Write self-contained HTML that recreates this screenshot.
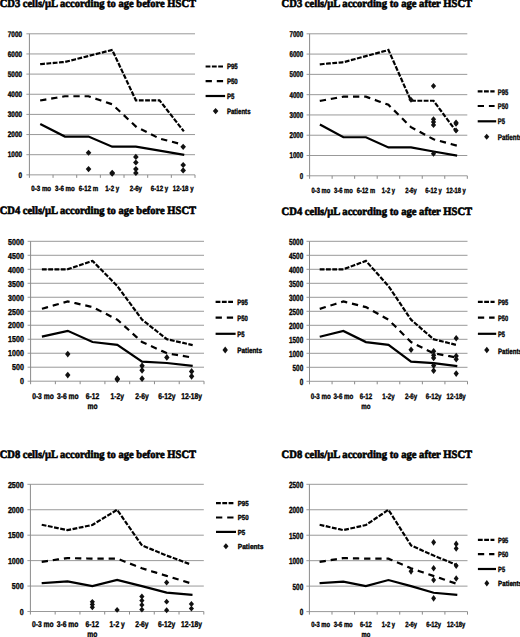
<!DOCTYPE html>
<html><head><meta charset="utf-8"><style>
html,body{margin:0;padding:0;background:#fff;width:520px;height:637px;overflow:hidden}
svg{display:block;text-rendering:geometricPrecision}
.t{font-family:"Liberation Serif", serif;font-weight:bold;font-size:11.2px;fill:#000;stroke:#000;stroke-width:0.6px}
.yl,.xl,.lg{font-weight:bold;stroke:#000;stroke-width:0.35px}
.yl{font-family:"Liberation Sans", sans-serif;font-size:8.1px;fill:#000;text-anchor:end}
.xl{font-family:"Liberation Sans", sans-serif;font-size:8.1px;fill:#000;text-anchor:middle}
.lg{font-family:"Liberation Sans", sans-serif;font-size:8.1px;fill:#000}
.g{stroke:#999;stroke-width:1}
.a{stroke:#8a8a8a;stroke-width:1}
.s{fill:none;stroke:#000;stroke-width:2.2;stroke-linejoin:miter;stroke-linecap:square}
.p95{stroke-dasharray:2.6 3.7}
.p50{stroke-dasharray:4.1 7.1}
.d{fill:#111}
</style></head><body>
<svg width="520" height="637" viewBox="0 0 520 637">
<g><rect x="-10" y="-10" width="540" height="657" fill="#fff"/>
<g><text class="t" x="-0.3" y="7.3" transform="translate(-0.3 0) scale(0.94 1) translate(0.3 0)">CD3 cells/µL according to age before HSCT</text><line class="g" x1="26.4" y1="174.85" x2="195" y2="174.85"/><text class="yl" x="22" y="177.6" style="font-size:8.1px" transform="matrix(0.79 0 0 1 4.62 0)">0</text><line class="g" x1="26.4" y1="154.7" x2="195" y2="154.7"/><text class="yl" x="22" y="157.45" style="font-size:8.1px" transform="matrix(0.79 0 0 1 4.62 0)">1000</text><line class="g" x1="26.4" y1="134.55" x2="195" y2="134.55"/><text class="yl" x="22" y="137.3" style="font-size:8.1px" transform="matrix(0.79 0 0 1 4.62 0)">2000</text><line class="g" x1="26.4" y1="114.4" x2="195" y2="114.4"/><text class="yl" x="22" y="117.15" style="font-size:8.1px" transform="matrix(0.79 0 0 1 4.62 0)">3000</text><line class="g" x1="26.4" y1="94.25" x2="195" y2="94.25"/><text class="yl" x="22" y="97" style="font-size:8.1px" transform="matrix(0.79 0 0 1 4.62 0)">4000</text><line class="g" x1="26.4" y1="74.1" x2="195" y2="74.1"/><text class="yl" x="22" y="76.85" style="font-size:8.1px" transform="matrix(0.79 0 0 1 4.62 0)">5000</text><line class="g" x1="26.4" y1="53.95" x2="195" y2="53.95"/><text class="yl" x="22" y="56.7" style="font-size:8.1px" transform="matrix(0.79 0 0 1 4.62 0)">6000</text><line class="g" x1="26.4" y1="33.8" x2="195" y2="33.8"/><text class="yl" x="22" y="36.55" style="font-size:8.1px" transform="matrix(0.79 0 0 1 4.62 0)">7000</text><line class="a" x1="29.4" y1="33.8" x2="29.4" y2="177.85"/><line class="a" x1="53.06" y1="174.85" x2="53.06" y2="177.85"/><line class="a" x1="76.71" y1="174.85" x2="76.71" y2="177.85"/><line class="a" x1="100.37" y1="174.85" x2="100.37" y2="177.85"/><line class="a" x1="124.03" y1="174.85" x2="124.03" y2="177.85"/><line class="a" x1="147.69" y1="174.85" x2="147.69" y2="177.85"/><line class="a" x1="171.34" y1="174.85" x2="171.34" y2="177.85"/><line class="a" x1="195" y1="174.85" x2="195" y2="177.85"/><text class="xl" x="41.23" y="191.46" style="font-size:7.6px" transform="matrix(0.805 0 0 1 8.04 0)">0-3 mo</text><text class="xl" x="64.89" y="191.46" style="font-size:7.6px" transform="matrix(0.805 0 0 1 12.65 0)">3-6 mo</text><text class="xl" x="88.54" y="191.46" style="font-size:7.6px" transform="matrix(0.805 0 0 1 17.27 0)">6-12 m</text><text class="xl" x="112.2" y="191.46" style="font-size:7.6px" transform="matrix(0.805 0 0 1 21.88 0)">1-2 y</text><text class="xl" x="135.86" y="191.46" style="font-size:7.6px" transform="matrix(0.805 0 0 1 26.49 0)">2-6y</text><text class="xl" x="159.51" y="191.46" style="font-size:7.6px" transform="matrix(0.805 0 0 1 31.11 0)">6-12 y</text><text class="xl" x="183.17" y="191.46" style="font-size:7.6px" transform="matrix(0.805 0 0 1 35.72 0)">12-18 y</text><polyline class="s p95" points="41.23,64.02 64.89,62.01 88.54,55.96 112.2,49.92 135.86,100.29 159.51,100.29 183.17,130.52"/><polyline class="s p50" points="41.23,100.29 64.89,96.27 88.54,96.27 112.2,104.32 135.86,126.49 159.51,138.58 183.17,144.62"/><polyline class="s p5" points="41.23,124.47 64.89,136.56 88.54,136.56 112.2,146.64 135.86,146.64 159.51,150.67 183.17,154.7"/><path class="d" d="M88.54 149.63L91.34 152.69L88.54 155.74L85.74 152.69Z"/><path class="d" d="M88.54 166.06L91.34 169.11L88.54 172.16L85.74 169.11Z"/><path class="d" d="M112.2 169.68L115 172.73L112.2 175.78L109.4 172.73Z"/><path class="d" d="M112.2 170.59L115 173.64L112.2 176.69L109.4 173.64Z"/><path class="d" d="M135.86 153.87L138.66 156.92L135.86 159.97L133.06 156.92Z"/><path class="d" d="M135.86 159.45L138.66 162.5L135.86 165.55L133.06 162.5Z"/><path class="d" d="M135.86 166.06L138.66 169.11L135.86 172.16L133.06 169.11Z"/><path class="d" d="M135.86 169.95L138.66 173L135.86 176.05L133.06 173Z"/><path class="d" d="M183.17 143.79L185.97 146.84L183.17 149.89L180.37 146.84Z"/><path class="d" d="M183.17 161.93L185.97 164.98L183.17 168.03L180.37 164.98Z"/><path class="d" d="M183.17 167.37L185.97 170.42L183.17 173.47L180.37 170.42Z"/><line class="s p95" x1="206.7" y1="66.5" x2="222.4" y2="66.5"/><text class="lg" x="226.9" y="69.3" style="font-size:7.7px" transform="matrix(0.79 0 0 1 47.65 0)">P95</text><line class="s p50" x1="206.7" y1="81.2" x2="222.4" y2="81.2"/><text class="lg" x="226.9" y="84" style="font-size:7.7px" transform="matrix(0.79 0 0 1 47.65 0)">P50</text><line class="s p5" x1="206.7" y1="96" x2="224" y2="96"/><text class="lg" x="226.9" y="98.8" style="font-size:7.7px" transform="matrix(0.79 0 0 1 47.65 0)">P5</text><path class="d" d="M215.6 108.05L218.4 111.1L215.6 114.15L212.8 111.1Z"/><text class="lg" x="226.9" y="113.9" style="font-size:7.7px" transform="matrix(0.79 0 0 1 47.65 0)">Patients</text></g><g><text class="t" x="281.6" y="7.2" transform="translate(281.6 0) scale(0.946 1) translate(-281.6 0)">CD3 cells/µL according to age after HSCT</text><line class="g" x1="306.6" y1="175.8" x2="467.3" y2="175.8"/><text class="yl" x="303.2" y="178.75" style="font-size:8.5px" transform="matrix(0.726 0 0 1 83.08 0)">0</text><line class="g" x1="306.6" y1="155.51" x2="467.3" y2="155.51"/><text class="yl" x="303.2" y="158.46" style="font-size:8.5px" transform="matrix(0.726 0 0 1 83.08 0)">1000</text><line class="g" x1="306.6" y1="135.23" x2="467.3" y2="135.23"/><text class="yl" x="303.2" y="138.18" style="font-size:8.5px" transform="matrix(0.726 0 0 1 83.08 0)">2000</text><line class="g" x1="306.6" y1="114.94" x2="467.3" y2="114.94"/><text class="yl" x="303.2" y="117.89" style="font-size:8.5px" transform="matrix(0.726 0 0 1 83.08 0)">3000</text><line class="g" x1="306.6" y1="94.66" x2="467.3" y2="94.66"/><text class="yl" x="303.2" y="97.61" style="font-size:8.5px" transform="matrix(0.726 0 0 1 83.08 0)">4000</text><line class="g" x1="306.6" y1="74.37" x2="467.3" y2="74.37"/><text class="yl" x="303.2" y="77.32" style="font-size:8.5px" transform="matrix(0.726 0 0 1 83.08 0)">5000</text><line class="g" x1="306.6" y1="54.09" x2="467.3" y2="54.09"/><text class="yl" x="303.2" y="57.04" style="font-size:8.5px" transform="matrix(0.726 0 0 1 83.08 0)">6000</text><line class="g" x1="306.6" y1="33.8" x2="467.3" y2="33.8"/><text class="yl" x="303.2" y="36.75" style="font-size:8.5px" transform="matrix(0.726 0 0 1 83.08 0)">7000</text><line class="a" x1="309.6" y1="33.8" x2="309.6" y2="178.8"/><line class="a" x1="332.13" y1="175.8" x2="332.13" y2="178.8"/><line class="a" x1="354.66" y1="175.8" x2="354.66" y2="178.8"/><line class="a" x1="377.19" y1="175.8" x2="377.19" y2="178.8"/><line class="a" x1="399.71" y1="175.8" x2="399.71" y2="178.8"/><line class="a" x1="422.24" y1="175.8" x2="422.24" y2="178.8"/><line class="a" x1="444.77" y1="175.8" x2="444.77" y2="178.8"/><line class="a" x1="467.3" y1="175.8" x2="467.3" y2="178.8"/><text class="xl" x="320.86" y="192.96" style="font-size:7.6px" transform="matrix(0.76 0 0 1 77.01 0)">0-3 mo</text><text class="xl" x="343.39" y="192.96" style="font-size:7.6px" transform="matrix(0.76 0 0 1 82.41 0)">3-6 mo</text><text class="xl" x="365.92" y="192.96" style="font-size:7.6px" transform="matrix(0.76 0 0 1 87.82 0)">6-12 m</text><text class="xl" x="388.45" y="192.96" style="font-size:7.6px" transform="matrix(0.76 0 0 1 93.23 0)">1-2 y</text><text class="xl" x="410.98" y="192.96" style="font-size:7.6px" transform="matrix(0.76 0 0 1 98.63 0)">2-6y</text><text class="xl" x="433.51" y="192.96" style="font-size:7.6px" transform="matrix(0.76 0 0 1 104.04 0)">6-12 y</text><text class="xl" x="456.04" y="192.96" style="font-size:7.6px" transform="matrix(0.76 0 0 1 109.45 0)">12-18 y</text><polyline class="s p95" points="320.86,64.23 343.39,62.2 365.92,56.11 388.45,50.03 410.98,100.74 433.51,100.74 456.04,131.17"/><polyline class="s p50" points="320.86,100.74 343.39,96.69 365.92,96.69 388.45,104.8 410.98,127.11 433.51,139.29 456.04,145.37"/><polyline class="s p5" points="320.86,125.09 343.39,137.26 365.92,137.26 388.45,147.4 410.98,147.4 433.51,151.46 456.04,155.51"/><path class="d" d="M410.98 96.73L413.58 99.73L410.98 102.73L408.38 99.73Z"/><path class="d" d="M433.51 82.93L436.11 85.93L433.51 88.93L430.91 85.93Z"/><path class="d" d="M433.51 116.2L436.11 119.2L433.51 122.2L430.91 119.2Z"/><path class="d" d="M433.51 119.04L436.11 122.04L433.51 125.04L430.91 122.04Z"/><path class="d" d="M433.51 121.88L436.11 124.88L433.51 127.88L430.91 124.88Z"/><path class="d" d="M433.51 150.69L436.11 153.69L433.51 156.69L430.91 153.69Z"/><path class="d" d="M456.04 119.45L458.64 122.45L456.04 125.45L453.44 122.45Z"/><path class="d" d="M456.04 120.87L458.64 123.87L456.04 126.87L453.44 123.87Z"/><path class="d" d="M456.04 127.56L458.64 130.56L456.04 133.56L453.44 130.56Z"/><line class="s p95" x1="478.8" y1="91.4" x2="493.5" y2="91.4"/><text class="lg" x="497.8" y="94.5" style="font-size:8.1px" transform="matrix(0.72 0 0 1 139.38 0)">P95</text><line class="s p50" x1="478.8" y1="106" x2="493.5" y2="106"/><text class="lg" x="497.8" y="109.1" style="font-size:8.1px" transform="matrix(0.72 0 0 1 139.38 0)">P50</text><line class="s p5" x1="478.8" y1="121.3" x2="495.1" y2="121.3"/><text class="lg" x="497.8" y="124.4" style="font-size:8.1px" transform="matrix(0.72 0 0 1 139.38 0)">P5</text><path class="d" d="M486.7 133.7L489.3 136.7L486.7 139.7L484.1 136.7Z"/><text class="lg" x="497.8" y="139.8" style="font-size:8.1px" transform="matrix(0.7776000000000001 0 0 1 110.71 0)">Patients</text></g><g><text class="t" x="-0.3" y="214.4" transform="translate(-0.3 0) scale(0.94 1) translate(0.3 0)">CD4 cells/µL according to age before HSCT</text><line class="g" x1="27.6" y1="381.2" x2="204" y2="381.2"/><text class="yl" x="23.9" y="384.45" style="font-size:8.65px" transform="matrix(0.823 0 0 1 4.23 0)">0</text><line class="g" x1="27.6" y1="367.21" x2="204" y2="367.21"/><text class="yl" x="23.9" y="370.46" style="font-size:8.65px" transform="matrix(0.823 0 0 1 4.23 0)">500</text><line class="g" x1="27.6" y1="353.22" x2="204" y2="353.22"/><text class="yl" x="23.9" y="356.47" style="font-size:8.65px" transform="matrix(0.823 0 0 1 4.23 0)">1000</text><line class="g" x1="27.6" y1="339.23" x2="204" y2="339.23"/><text class="yl" x="23.9" y="342.48" style="font-size:8.65px" transform="matrix(0.823 0 0 1 4.23 0)">1500</text><line class="g" x1="27.6" y1="325.24" x2="204" y2="325.24"/><text class="yl" x="23.9" y="328.49" style="font-size:8.65px" transform="matrix(0.823 0 0 1 4.23 0)">2000</text><line class="g" x1="27.6" y1="311.25" x2="204" y2="311.25"/><text class="yl" x="23.9" y="314.5" style="font-size:8.65px" transform="matrix(0.823 0 0 1 4.23 0)">2500</text><line class="g" x1="27.6" y1="297.26" x2="204" y2="297.26"/><text class="yl" x="23.9" y="300.51" style="font-size:8.65px" transform="matrix(0.823 0 0 1 4.23 0)">3000</text><line class="g" x1="27.6" y1="283.27" x2="204" y2="283.27"/><text class="yl" x="23.9" y="286.52" style="font-size:8.65px" transform="matrix(0.823 0 0 1 4.23 0)">3500</text><line class="g" x1="27.6" y1="269.28" x2="204" y2="269.28"/><text class="yl" x="23.9" y="272.53" style="font-size:8.65px" transform="matrix(0.823 0 0 1 4.23 0)">4000</text><line class="g" x1="27.6" y1="255.29" x2="204" y2="255.29"/><text class="yl" x="23.9" y="258.54" style="font-size:8.65px" transform="matrix(0.823 0 0 1 4.23 0)">4500</text><line class="g" x1="27.6" y1="241.3" x2="204" y2="241.3"/><text class="yl" x="23.9" y="244.55" style="font-size:8.65px" transform="matrix(0.823 0 0 1 4.23 0)">5000</text><line class="a" x1="30.6" y1="241.3" x2="30.6" y2="384.2"/><line class="a" x1="55.37" y1="381.2" x2="55.37" y2="384.2"/><line class="a" x1="80.14" y1="381.2" x2="80.14" y2="384.2"/><line class="a" x1="104.91" y1="381.2" x2="104.91" y2="384.2"/><line class="a" x1="129.69" y1="381.2" x2="129.69" y2="384.2"/><line class="a" x1="154.46" y1="381.2" x2="154.46" y2="384.2"/><line class="a" x1="179.23" y1="381.2" x2="179.23" y2="384.2"/><line class="a" x1="204" y1="381.2" x2="204" y2="384.2"/><text class="xl" x="42.99" y="399.36" style="font-size:8.35px" transform="matrix(0.805 0 0 1 8.38 0)">0-3 mo</text><text class="xl" x="67.76" y="399.36" style="font-size:8.35px" transform="matrix(0.805 0 0 1 13.21 0)">3-6 mo</text><text class="xl" x="92.53" y="399.36" style="font-size:8.35px" transform="matrix(0.805 0 0 1 18.04 0)">6-12</text><text class="xl" x="92.53" y="409.06" style="font-size:8.35px" transform="matrix(0.805 0 0 1 18.04 0)">mo</text><text class="xl" x="117.3" y="399.36" style="font-size:8.35px" transform="matrix(0.805 0 0 1 22.87 0)">1-2y</text><text class="xl" x="142.07" y="399.36" style="font-size:8.35px" transform="matrix(0.805 0 0 1 27.7 0)">2-6y</text><text class="xl" x="166.84" y="399.36" style="font-size:8.35px" transform="matrix(0.805 0 0 1 32.53 0)">6-12y</text><text class="xl" x="191.61" y="399.36" style="font-size:8.35px" transform="matrix(0.805 0 0 1 37.36 0)">12-18y</text><polyline class="s p95" points="42.99,269.28 67.76,269.28 92.53,260.89 117.3,286.07 142.07,319.64 166.84,339.23 191.61,344.83"/><polyline class="s p50" points="42.99,308.45 67.76,301.46 92.53,307.05 117.3,319.64 142.07,342.03 166.84,353.22 191.61,357.42"/><polyline class="s p5" points="42.99,336.43 67.76,330.84 92.53,342.03 117.3,344.83 142.07,361.61 166.84,363.01 191.61,365.81"/><path class="d" d="M67.76 350.66L70.46 354.06L67.76 357.46L65.06 354.06Z"/><path class="d" d="M67.76 371.64L70.46 375.04L67.76 378.44L65.06 375.04Z"/><path class="d" d="M117.3 375.28L120 378.68L117.3 382.08L114.6 378.68Z"/><path class="d" d="M117.3 376.12L120 379.52L117.3 382.92L114.6 379.52Z"/><path class="d" d="M142.07 362.41L144.77 365.81L142.07 369.21L139.37 365.81Z"/><path class="d" d="M142.07 366.89L144.77 370.29L142.07 373.69L139.37 370.29Z"/><path class="d" d="M142.07 375.28L144.77 378.68L142.07 382.08L139.37 378.68Z"/><path class="d" d="M166.84 354.02L169.54 357.42L166.84 360.82L164.14 357.42Z"/><path class="d" d="M191.61 368.01L194.31 371.41L191.61 374.81L188.91 371.41Z"/><path class="d" d="M191.61 372.9L194.31 376.3L191.61 379.7L188.91 376.3Z"/><line class="s p95" x1="216.7" y1="301.9" x2="232.9" y2="301.9"/><text class="lg" x="237.2" y="305.3" style="font-size:7.7px" transform="matrix(0.77 0 0 1 54.56 0)">P95</text><line class="s p50" x1="216.7" y1="317.7" x2="232.9" y2="317.7"/><text class="lg" x="237.2" y="321.1" style="font-size:7.7px" transform="matrix(0.77 0 0 1 54.56 0)">P50</text><line class="s p5" x1="216.7" y1="333.8" x2="234.5" y2="333.8"/><text class="lg" x="237.2" y="337.2" style="font-size:7.7px" transform="matrix(0.77 0 0 1 54.56 0)">P5</text><path class="d" d="M225.2 346.6L227.9 350L225.2 353.4L222.5 350Z"/><text class="lg" x="237.2" y="353.4" style="font-size:7.7px" transform="matrix(0.8316000000000001 0 0 1 39.94 0)">Patients</text></g><g><text class="t" x="281.6" y="214.5" transform="translate(281.6 0) scale(0.946 1) translate(-281.6 0)">CD4 cells/µL according to age after HSCT</text><line class="g" x1="306.5" y1="381.3" x2="467.5" y2="381.3"/><text class="yl" x="303.2" y="384.74" style="font-size:8.9px" transform="matrix(0.719 0 0 1 85.2 0)">0</text><line class="g" x1="306.5" y1="367.3" x2="467.5" y2="367.3"/><text class="yl" x="303.2" y="370.74" style="font-size:8.9px" transform="matrix(0.719 0 0 1 85.2 0)">500</text><line class="g" x1="306.5" y1="353.3" x2="467.5" y2="353.3"/><text class="yl" x="303.2" y="356.74" style="font-size:8.9px" transform="matrix(0.719 0 0 1 85.2 0)">1000</text><line class="g" x1="306.5" y1="339.3" x2="467.5" y2="339.3"/><text class="yl" x="303.2" y="342.74" style="font-size:8.9px" transform="matrix(0.719 0 0 1 85.2 0)">1500</text><line class="g" x1="306.5" y1="325.3" x2="467.5" y2="325.3"/><text class="yl" x="303.2" y="328.74" style="font-size:8.9px" transform="matrix(0.719 0 0 1 85.2 0)">2000</text><line class="g" x1="306.5" y1="311.3" x2="467.5" y2="311.3"/><text class="yl" x="303.2" y="314.74" style="font-size:8.9px" transform="matrix(0.719 0 0 1 85.2 0)">2500</text><line class="g" x1="306.5" y1="297.3" x2="467.5" y2="297.3"/><text class="yl" x="303.2" y="300.74" style="font-size:8.9px" transform="matrix(0.719 0 0 1 85.2 0)">3000</text><line class="g" x1="306.5" y1="283.3" x2="467.5" y2="283.3"/><text class="yl" x="303.2" y="286.74" style="font-size:8.9px" transform="matrix(0.719 0 0 1 85.2 0)">3500</text><line class="g" x1="306.5" y1="269.3" x2="467.5" y2="269.3"/><text class="yl" x="303.2" y="272.74" style="font-size:8.9px" transform="matrix(0.719 0 0 1 85.2 0)">4000</text><line class="g" x1="306.5" y1="255.3" x2="467.5" y2="255.3"/><text class="yl" x="303.2" y="258.74" style="font-size:8.9px" transform="matrix(0.719 0 0 1 85.2 0)">4500</text><line class="g" x1="306.5" y1="241.3" x2="467.5" y2="241.3"/><text class="yl" x="303.2" y="244.74" style="font-size:8.9px" transform="matrix(0.719 0 0 1 85.2 0)">5000</text><line class="a" x1="309.5" y1="241.3" x2="309.5" y2="384.3"/><line class="a" x1="332.07" y1="381.3" x2="332.07" y2="384.3"/><line class="a" x1="354.64" y1="381.3" x2="354.64" y2="384.3"/><line class="a" x1="377.21" y1="381.3" x2="377.21" y2="384.3"/><line class="a" x1="399.79" y1="381.3" x2="399.79" y2="384.3"/><line class="a" x1="422.36" y1="381.3" x2="422.36" y2="384.3"/><line class="a" x1="444.93" y1="381.3" x2="444.93" y2="384.3"/><line class="a" x1="467.5" y1="381.3" x2="467.5" y2="384.3"/><text class="xl" x="320.79" y="399.48" style="font-size:7.9px" transform="matrix(0.78 0 0 1 70.57 0)">0-3 mo</text><text class="xl" x="343.36" y="399.48" style="font-size:7.9px" transform="matrix(0.78 0 0 1 75.54 0)">3-6 mo</text><text class="xl" x="365.93" y="399.48" style="font-size:7.9px" transform="matrix(0.78 0 0 1 80.5 0)">6-12</text><text class="xl" x="365.93" y="408.88" style="font-size:7.9px" transform="matrix(0.78 0 0 1 80.5 0)">mo</text><text class="xl" x="388.5" y="399.48" style="font-size:7.9px" transform="matrix(0.78 0 0 1 85.47 0)">1-2y</text><text class="xl" x="411.07" y="399.48" style="font-size:7.9px" transform="matrix(0.78 0 0 1 90.44 0)">2-6y</text><text class="xl" x="433.64" y="399.48" style="font-size:7.9px" transform="matrix(0.78 0 0 1 95.4 0)">6-12y</text><text class="xl" x="456.21" y="399.48" style="font-size:7.9px" transform="matrix(0.78 0 0 1 100.37 0)">12-18y</text><polyline class="s p95" points="320.79,269.3 343.36,269.3 365.93,260.9 388.5,286.1 411.07,319.7 433.64,339.3 456.21,344.9"/><polyline class="s p50" points="320.79,308.5 343.36,301.5 365.93,307.1 388.5,319.7 411.07,342.1 433.64,353.3 456.21,357.5"/><polyline class="s p5" points="320.79,336.5 343.36,330.9 365.93,342.1 388.5,344.9 411.07,361.7 433.64,363.1 456.21,365.9"/><path class="d" d="M411.07 346.5L413.67 349.8L411.07 353.1L408.47 349.8Z"/><path class="d" d="M433.64 347.9L436.24 351.2L433.64 354.5L431.04 351.2Z"/><path class="d" d="M433.64 351.96L436.24 355.26L433.64 358.56L431.04 355.26Z"/><path class="d" d="M433.64 354.62L436.24 357.92L433.64 361.22L431.04 357.92Z"/><path class="d" d="M433.64 362.32L436.24 365.62L433.64 368.92L431.04 365.62Z"/><path class="d" d="M433.64 367.36L436.24 370.66L433.64 373.96L431.04 370.66Z"/><path class="d" d="M456.21 334.88L458.81 338.18L456.21 341.48L453.61 338.18Z"/><path class="d" d="M456.21 352.66L458.81 355.96L456.21 359.26L453.61 355.96Z"/><path class="d" d="M456.21 355.88L458.81 359.18L456.21 362.48L453.61 359.18Z"/><path class="d" d="M456.21 370.3L458.81 373.6L456.21 376.9L453.61 373.6Z"/><line class="s p95" x1="479" y1="301.9" x2="493.5" y2="301.9"/><text class="lg" x="498" y="305.4" style="font-size:7.7px" transform="matrix(0.74 0 0 1 129.48 0)">P95</text><line class="s p50" x1="479" y1="317.7" x2="493.5" y2="317.7"/><text class="lg" x="498" y="321.2" style="font-size:7.7px" transform="matrix(0.74 0 0 1 129.48 0)">P50</text><line class="s p5" x1="479" y1="333.8" x2="495.1" y2="333.8"/><text class="lg" x="498" y="337.3" style="font-size:7.7px" transform="matrix(0.74 0 0 1 129.48 0)">P5</text><path class="d" d="M486.8 346.7L489.4 350L486.8 353.3L484.2 350Z"/><text class="lg" x="498" y="353.5" style="font-size:7.7px" transform="matrix(0.7992 0 0 1 100 0)">Patients</text></g><g><text class="t" x="-0.3" y="458.3" transform="translate(-0.3 0) scale(0.94 1) translate(0.3 0)">CD8 cells/µL according to age before HSCT</text><line class="g" x1="27.4" y1="611.5" x2="203.8" y2="611.5"/><text class="yl" x="23.7" y="614.75" style="font-size:8.65px" transform="matrix(0.823 0 0 1 4.19 0)">0</text><line class="g" x1="27.4" y1="586.06" x2="203.8" y2="586.06"/><text class="yl" x="23.7" y="589.31" style="font-size:8.65px" transform="matrix(0.823 0 0 1 4.19 0)">500</text><line class="g" x1="27.4" y1="560.62" x2="203.8" y2="560.62"/><text class="yl" x="23.7" y="563.87" style="font-size:8.65px" transform="matrix(0.823 0 0 1 4.19 0)">1000</text><line class="g" x1="27.4" y1="535.18" x2="203.8" y2="535.18"/><text class="yl" x="23.7" y="538.43" style="font-size:8.65px" transform="matrix(0.823 0 0 1 4.19 0)">1500</text><line class="g" x1="27.4" y1="509.74" x2="203.8" y2="509.74"/><text class="yl" x="23.7" y="512.99" style="font-size:8.65px" transform="matrix(0.823 0 0 1 4.19 0)">2000</text><line class="g" x1="27.4" y1="484.3" x2="203.8" y2="484.3"/><text class="yl" x="23.7" y="487.55" style="font-size:8.65px" transform="matrix(0.823 0 0 1 4.19 0)">2500</text><line class="a" x1="30.4" y1="484.3" x2="30.4" y2="614.5"/><line class="a" x1="55.17" y1="611.5" x2="55.17" y2="614.5"/><line class="a" x1="79.94" y1="611.5" x2="79.94" y2="614.5"/><line class="a" x1="104.71" y1="611.5" x2="104.71" y2="614.5"/><line class="a" x1="129.49" y1="611.5" x2="129.49" y2="614.5"/><line class="a" x1="154.26" y1="611.5" x2="154.26" y2="614.5"/><line class="a" x1="179.03" y1="611.5" x2="179.03" y2="614.5"/><line class="a" x1="203.8" y1="611.5" x2="203.8" y2="614.5"/><text class="xl" x="42.79" y="627.46" style="font-size:8.35px" transform="matrix(0.805 0 0 1 8.34 0)">0-3 mo</text><text class="xl" x="67.56" y="627.46" style="font-size:8.35px" transform="matrix(0.805 0 0 1 13.17 0)">3-6 mo</text><text class="xl" x="92.33" y="627.46" style="font-size:8.35px" transform="matrix(0.805 0 0 1 18 0)">6-12</text><text class="xl" x="92.33" y="636.86" style="font-size:8.35px" transform="matrix(0.805 0 0 1 18 0)">mo</text><text class="xl" x="117.1" y="627.46" style="font-size:8.35px" transform="matrix(0.805 0 0 1 22.83 0)">1-2 y</text><text class="xl" x="141.87" y="627.46" style="font-size:8.35px" transform="matrix(0.805 0 0 1 27.66 0)">2-6y</text><text class="xl" x="166.64" y="627.46" style="font-size:8.35px" transform="matrix(0.805 0 0 1 32.5 0)">6-12y</text><text class="xl" x="191.41" y="627.46" style="font-size:8.35px" transform="matrix(0.805 0 0 1 37.33 0)">12-18y</text><polyline class="s p95" points="42.79,525 67.56,530.09 92.33,525 117.1,509.74 141.87,545.36 166.64,555.53 191.41,564.69"/><polyline class="s p50" points="42.79,561.64 67.56,558.08 92.33,558.58 117.1,558.58 141.87,568.25 166.64,575.88 191.41,583.52"/><polyline class="s p5" points="42.79,583.01 67.56,581.48 92.33,586.06 117.1,579.95 141.87,586.06 166.64,592.67 191.41,594.71"/><path class="d" d="M92.33 598.93L94.93 601.83L92.33 604.73L89.73 601.83Z"/><path class="d" d="M92.33 601.48L94.93 604.38L92.33 607.28L89.73 604.38Z"/><path class="d" d="M92.33 604.43L94.93 607.33L92.33 610.23L89.73 607.33Z"/><path class="d" d="M117.1 607.07L119.7 609.97L117.1 612.87L114.5 609.97Z"/><path class="d" d="M141.87 593.59L144.47 596.49L141.87 599.39L139.27 596.49Z"/><path class="d" d="M141.87 597.66L144.47 600.56L141.87 603.46L139.27 600.56Z"/><path class="d" d="M141.87 601.99L144.47 604.89L141.87 607.79L139.27 604.89Z"/><path class="d" d="M141.87 606.72L144.47 609.62L141.87 612.52L139.27 609.62Z"/><path class="d" d="M166.64 579.6L169.24 582.5L166.64 585.4L164.04 582.5Z"/><path class="d" d="M166.64 598.78L169.24 601.68L166.64 604.58L164.04 601.68Z"/><path class="d" d="M166.64 607.33L169.24 610.23L166.64 613.13L164.04 610.23Z"/><path class="d" d="M191.41 601.12L194.01 604.02L191.41 606.92L188.81 604.02Z"/><path class="d" d="M191.41 605.7L194.01 608.6L191.41 611.5L188.81 608.6Z"/><line class="s p95" x1="217.1" y1="503.1" x2="233.3" y2="503.1"/><text class="lg" x="237.75" y="506" style="font-size:7.3px" transform="matrix(0.84 0 0 1 38.04 0)">P95</text><line class="s p50" x1="217.1" y1="517.5" x2="233.3" y2="517.5"/><text class="lg" x="237.75" y="520.4" style="font-size:7.3px" transform="matrix(0.84 0 0 1 38.04 0)">P50</text><line class="s p5" x1="217.1" y1="531.9" x2="234.9" y2="531.9"/><text class="lg" x="237.75" y="534.8" style="font-size:7.3px" transform="matrix(0.84 0 0 1 38.04 0)">P5</text><path class="d" d="M225.9 543.35L228.5 546.25L225.9 549.15L223.3 546.25Z"/><text class="lg" x="237.75" y="549.15" style="font-size:7.3px" transform="matrix(0.9072 0 0 1 22.06 0)">Patients</text></g><g><text class="t" x="281.6" y="458.3" transform="translate(281.6 0) scale(0.946 1) translate(-281.6 0)">CD8 cells/µL according to age after HSCT</text><line class="g" x1="306.4" y1="611.6" x2="467.5" y2="611.6"/><text class="yl" x="303.2" y="615.04" style="font-size:8.9px" transform="matrix(0.719 0 0 1 85.2 0)">0</text><line class="g" x1="306.4" y1="586.14" x2="467.5" y2="586.14"/><text class="yl" x="303.2" y="589.58" style="font-size:8.9px" transform="matrix(0.719 0 0 1 85.2 0)">500</text><line class="g" x1="306.4" y1="560.68" x2="467.5" y2="560.68"/><text class="yl" x="303.2" y="564.12" style="font-size:8.9px" transform="matrix(0.719 0 0 1 85.2 0)">1000</text><line class="g" x1="306.4" y1="535.22" x2="467.5" y2="535.22"/><text class="yl" x="303.2" y="538.66" style="font-size:8.9px" transform="matrix(0.719 0 0 1 85.2 0)">1500</text><line class="g" x1="306.4" y1="509.76" x2="467.5" y2="509.76"/><text class="yl" x="303.2" y="513.2" style="font-size:8.9px" transform="matrix(0.719 0 0 1 85.2 0)">2000</text><line class="g" x1="306.4" y1="484.3" x2="467.5" y2="484.3"/><text class="yl" x="303.2" y="487.74" style="font-size:8.9px" transform="matrix(0.719 0 0 1 85.2 0)">2500</text><line class="a" x1="309.4" y1="484.3" x2="309.4" y2="614.6"/><line class="a" x1="331.99" y1="611.6" x2="331.99" y2="614.6"/><line class="a" x1="354.57" y1="611.6" x2="354.57" y2="614.6"/><line class="a" x1="377.16" y1="611.6" x2="377.16" y2="614.6"/><line class="a" x1="399.74" y1="611.6" x2="399.74" y2="614.6"/><line class="a" x1="422.33" y1="611.6" x2="422.33" y2="614.6"/><line class="a" x1="444.91" y1="611.6" x2="444.91" y2="614.6"/><line class="a" x1="467.5" y1="611.6" x2="467.5" y2="614.6"/><text class="xl" x="320.69" y="627.4" style="font-size:7.7px" transform="matrix(0.76 0 0 1 76.97 0)">0-3 mo</text><text class="xl" x="343.28" y="627.4" style="font-size:7.7px" transform="matrix(0.76 0 0 1 82.39 0)">3-6 mo</text><text class="xl" x="365.86" y="627.4" style="font-size:7.7px" transform="matrix(0.76 0 0 1 87.81 0)">6-12</text><text class="xl" x="365.86" y="636.7" style="font-size:7.7px" transform="matrix(0.76 0 0 1 87.81 0)">mo</text><text class="xl" x="388.45" y="627.4" style="font-size:7.7px" transform="matrix(0.76 0 0 1 93.23 0)">1-2 y</text><text class="xl" x="411.04" y="627.4" style="font-size:7.7px" transform="matrix(0.76 0 0 1 98.65 0)">2-6y</text><text class="xl" x="433.62" y="627.4" style="font-size:7.7px" transform="matrix(0.76 0 0 1 104.07 0)">6-12y</text><text class="xl" x="456.21" y="627.4" style="font-size:7.7px" transform="matrix(0.76 0 0 1 109.49 0)">12-18y</text><polyline class="s p95" points="320.69,525.04 343.28,530.13 365.86,525.04 388.45,509.76 411.04,545.4 433.62,555.59 456.21,564.75"/><polyline class="s p50" points="320.69,561.7 343.28,558.13 365.86,558.64 388.45,558.64 411.04,568.32 433.62,575.96 456.21,583.59"/><polyline class="s p5" points="320.69,583.08 343.28,581.56 365.86,586.14 388.45,580.03 411.04,586.14 433.62,592.76 456.21,594.8"/><path class="d" d="M411.04 568.07L413.49 571.37L411.04 574.67L408.59 571.37Z"/><path class="d" d="M433.62 539.05L436.07 542.35L433.62 545.65L431.17 542.35Z"/><path class="d" d="M433.62 565.02L436.07 568.32L433.62 571.62L431.17 568.32Z"/><path class="d" d="M433.62 576.73L436.07 580.03L433.62 583.33L431.17 580.03Z"/><path class="d" d="M433.62 595.06L436.07 598.36L433.62 601.66L431.17 598.36Z"/><path class="d" d="M456.21 540.58L458.66 543.88L456.21 547.18L453.76 543.88Z"/><path class="d" d="M456.21 545.16L458.66 548.46L456.21 551.76L453.76 548.46Z"/><path class="d" d="M456.21 562.47L458.66 565.77L456.21 569.07L453.76 565.77Z"/><path class="d" d="M456.21 575.2L458.66 578.5L456.21 581.8L453.76 578.5Z"/><line class="s p95" x1="479" y1="539.8" x2="493.3" y2="539.8"/><text class="lg" x="498.1" y="542.7" style="font-size:7.5px" transform="matrix(0.76 0 0 1 119.54 0)">P95</text><line class="s p50" x1="479" y1="554.2" x2="493.3" y2="554.2"/><text class="lg" x="498.1" y="557.1" style="font-size:7.5px" transform="matrix(0.76 0 0 1 119.54 0)">P50</text><line class="s p5" x1="479" y1="569" x2="494.9" y2="569"/><text class="lg" x="498.1" y="571.9" style="font-size:7.5px" transform="matrix(0.76 0 0 1 119.54 0)">P5</text><path class="d" d="M486.8 580L489.25 583.3L486.8 586.6L484.35 583.3Z"/><text class="lg" x="498.1" y="586.2" style="font-size:7.5px" transform="matrix(0.8208000000000001 0 0 1 89.26 0)">Patients</text></g>
</g></svg>
</body></html>
